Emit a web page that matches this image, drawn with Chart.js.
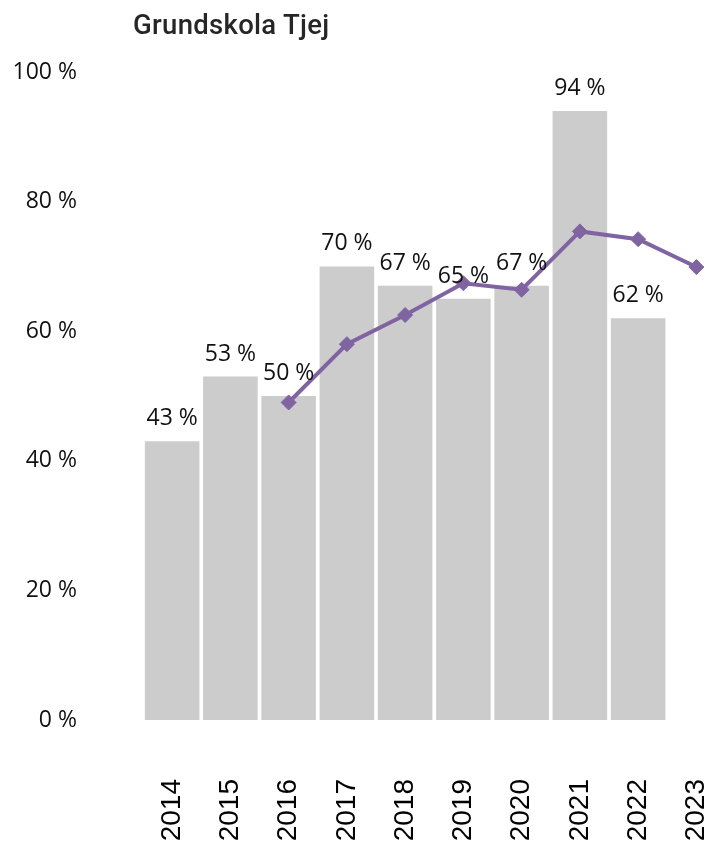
<!DOCTYPE html>
<html lang="sv">
<head>
    <meta charset="UTF-8">
    <title>Grundskola Tjej</title>
    <script src="https://cdn.jsdelivr.net/npm/chart.js"></script>
    <style>
        html, body { margin: 0; padding: 0; overflow: hidden; background: #fff; }
        #wrap { position: relative; width: 716px; height: 843px; overflow: hidden; }
        #title {
            position: absolute; left: 133px; top: 8px;
            font-family: Roboto, sans-serif; font-weight: 500; font-size: 27.5px;
            color: #262626; letter-spacing: 0.3px;
        }
        canvas { position: absolute; left: 0; top: 0; }
    </style>
</head>
<body>
    <div id="wrap">
        <canvas id="chart" width="734" height="843"></canvas>
        <div id="title">Grundskola Tjej</div>
    </div>

    <script>
        var years = ['2014', '2015', '2016', '2017', '2018', '2019', '2020', '2021', '2022', '2023'];
        var barValues = [43, 53, 50, 70, 67, 65, 67, 94, 62, null];
        var lineValues = [null, null, 49, 58, 62.5, 67.4, 66.4, 75.4, 74.2, 69.9];
        var yTicks = [0, 20, 40, 60, 80, 100];

        // draws "43 %" etc above each bar
        var barLabels = {
            id: 'barLabels',
            afterDatasetsDraw: function (chart) {
                var ctx = chart.ctx;
                var meta = chart.getDatasetMeta(0);
                ctx.save();
                ctx.font = '23px "Open Sans", sans-serif';
                ctx.fillStyle = '#111';
                ctx.textAlign = 'center';
                ctx.textBaseline = 'alphabetic';
                meta.data.forEach(function (bar, i) {
                    if (barValues[i] === null) return;
                    ctx.fillText(barValues[i] + ' %', bar.x, bar.y - 16);
                });
                ctx.restore();
            }
        };

        var ctx = document.getElementById('chart').getContext('2d');
        var chart = new Chart(ctx, {
            type: 'bar',
            data: {
                labels: years,
                datasets: [{
                    type: 'bar',
                    data: barValues,
                    backgroundColor: '#cccccc',
                    categoryPercentage: 1,
                    barPercentage: 0.937,
                    order: 2
                }, {
                    type: 'line',
                    data: lineValues,
                    borderColor: '#8064a2',
                    backgroundColor: '#8064a2',
                    borderWidth: 4,
                    pointStyle: 'rectRot',
                    pointRadius: 7.5,
                    pointBorderWidth: 1,
                    pointHoverRadius: 7.5,
                    spanGaps: false,
                    order: 1
                }]
            },
            options: {
                responsive: false,
                animation: false,
                layout: { padding: { top: 72, bottom: 2, left: 0, right: 0 } },
                plugins: {
                    legend: { display: false },
                    tooltip: { enabled: false }
                },
                scales: {
                    x: {
                        grid: { display: false, drawTicks: false },
                        border: { display: false },
                        afterFit: function (axis) {
                            axis.height = 121;
                            axis.paddingLeft = 0;
                            axis.paddingRight = 0;
                        },
                        ticks: {
                            minRotation: 90,
                            maxRotation: 90,
                            padding: 59,
                            color: '#000',
                            font: { family: '"Liberation Sans", Arial, sans-serif', size: 28 }
                        }
                    },
                    y: {
                        min: 0,
                        max: 100,
                        grid: { display: false, drawTicks: false },
                        border: { display: false },
                        afterFit: function (axis) {
                            axis.width = 143;
                            axis.paddingTop = 0;
                            axis.paddingBottom = 0;
                        },
                        afterBuildTicks: function (axis) {
                            axis.ticks = yTicks.map(function (v) { return { value: v }; });
                        },
                        ticks: {
                            padding: 66,
                            color: '#111',
                            font: { family: '"Open Sans", sans-serif', size: 23 },
                            callback: function (v) { return v + ' %'; }
                        }
                    }
                }
            },
            plugins: [barLabels]
        });
    </script>
</body>
</html>
